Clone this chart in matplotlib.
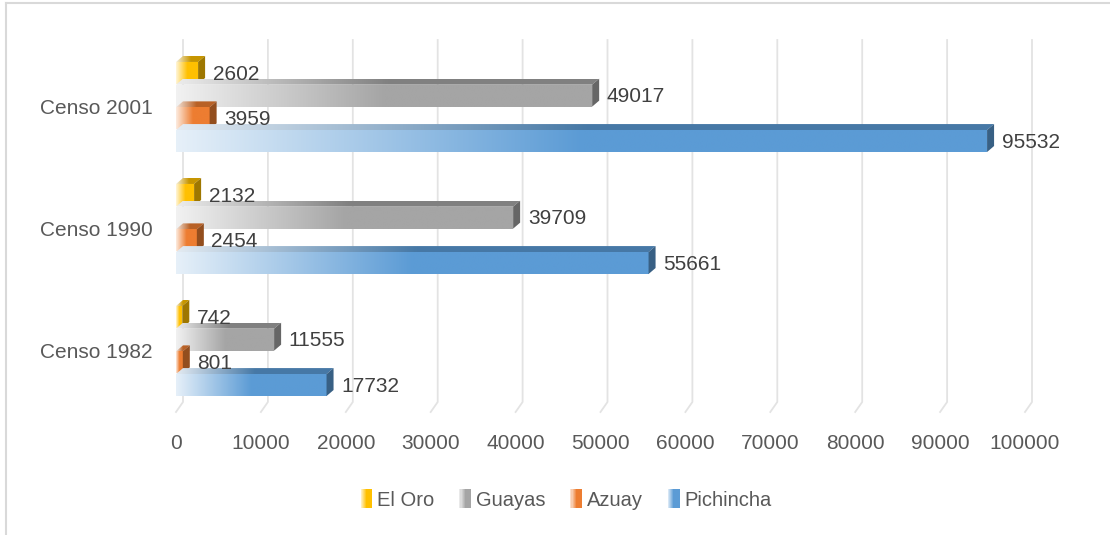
import matplotlib
matplotlib.use("Agg")
import matplotlib.pyplot as plt
import numpy as np
from matplotlib.patches import Polygon, Rectangle, Patch
from matplotlib.legend_handler import HandlerBase
from matplotlib.lines import Line2D

# datos
categories = ["Censo 1982", "Censo 1990", "Censo 2001"]
series_names = ["El Oro", "Guayas", "Azuay", "Pichincha"]
el_oro = [742, 2132, 2602]
guayas = [11555, 39709, 49017]
azuay = [801, 2454, 3959]
pichincha = [17732, 55661, 95532]
xticks = list(range(0, 100001, 10000))

colors = ["#FFC000", "#A5A5A5", "#ED7D31", "#5B9BD5"]
FONT = ["Liberation Sans", "DejaVu Sans"]
plt.rcParams["font.family"] = FONT

W, H = 1110, 535
fig = plt.figure(figsize=(W / 100, H / 100), dpi=100)
ax = fig.add_axes([176 / W, 1 - 412 / H, (1025 - 176) / W, (412 - 40) / H])
ax.set_xlim(0, 100000)
ax.set_ylim(2.5, -0.549)

DX = 825        # profundidad 3D en unidades de datos (x)
DY = 0.049      # profundidad 3D en unidades de categoría (y)
HALF = 0.09
STEP = 0.186


def rgb(c):
    return np.array(matplotlib.colors.to_rgb(c))


def gradient(c, n=256, start=0.15, span=0.5):
    t = np.linspace(0, 1, n)
    f = start + (1 - start) * np.clip(t / span, 0, 1)
    img = (1 - f)[:, None] * np.ones(3) + f[:, None] * rgb(c)
    return img[None, :, :]


def grad_poly(verts, extent, c, z, span=0.5):
    poly = Polygon(verts, closed=True, transform=ax.transData, facecolor="none",
                   edgecolor="none")
    im = ax.imshow(gradient(c, span=span), extent=extent, aspect="auto",
                   interpolation="bilinear", zorder=z)
    im.set_clip_path(poly)


# rejilla con suelo 3D
for xt in xticks:
    ax.plot([xt + DX, xt + DX, xt], [-0.549, 2.418, 2.5], color="#E3E3E3", lw=1.3,
            clip_on=False, zorder=0)

group_pos = [2, 1, 0]   # 2001 arriba
all_series = [el_oro, guayas, azuay, pichincha]
for s, (vals, c) in enumerate(zip(all_series, colors)):
    off = (s - 1.5) * STEP
    top_c = rgb(c) * 0.78
    side_c = rgb(c) * 0.62
    for g, v in zip(group_pos, vals):
        yc = g + off
        y0, y1 = yc - HALF, yc + HALF   # y0 arriba (eje invertido)
        z = 2 + s
        # cara frontal
        grad_poly([(0, y0), (v, y0), (v, y1), (0, y1)], (0, v, y1, y0), c, z)
        # cara superior
        grad_poly([(0, y0), (v, y0), (v + DX, y0 - DY), (DX, y0 - DY)],
                  (0, v + DX, y0, y0 - DY), top_c, z)
        # cara lateral
        ax.add_patch(Polygon([(v, y0), (v + DX, y0 - DY), (v + DX, y1 - DY), (v, y1)],
                             closed=True, facecolor=side_c, edgecolor="none", zorder=z))
        ax.text(v + DX + 900, yc + 0.01, f"{v}", va="center", ha="left", fontsize=15,
                color="#404040", zorder=10)

ax.set_xticks(xticks)
ax.set_xticklabels([str(x) for x in xticks])
ax.set_yticks(group_pos)
ax.set_yticklabels(categories)
ax.tick_params(axis="x", length=0, pad=16, labelsize=15, labelcolor="#595959")
ax.tick_params(axis="y", length=0, pad=17, labelsize=15, labelcolor="#595959")
for sp in ax.spines.values():
    sp.set_visible(False)


class GradientHandler(HandlerBase):
    def create_artists(self, legend, orig_handle, xdescent, ydescent, width, height,
                       fontsize, trans):
        c = orig_handle.get_facecolor()
        n = 10
        arts = []
        for i in range(n):
            f = 0.1 + 0.9 * min(1, (i + 1) / (n * 0.6))
            col = (1 - f) * np.ones(3) + f * np.array(c[:3])
            arts.append(Rectangle((-xdescent + i * width / n, -ydescent - 2), width / n + 0.3,
                                  height + 4, facecolor=col, edgecolor="none",
                                  transform=trans))
        return arts


handles = [Patch(facecolor=c, label=n) for n, c in zip(series_names, colors)]
fig.legend(handles=handles, loc="center", bbox_to_anchor=(566 / W, 1 - 500 / H), ncol=4,
           frameon=False, fontsize=14.5, labelcolor="#595959", handlelength=0.56,
           handleheight=0.7, handletextpad=0.25, columnspacing=1.25,
           handler_map={Patch: GradientHandler()})

# borde del gráfico
fig.add_artist(Line2D([6 / W, 6 / W], [0, 1 - 3 / H], color="#D9D9D9", lw=1.5,
                      transform=fig.transFigure))
fig.add_artist(Line2D([6 / W, 1], [1 - 3 / H, 1 - 3 / H], color="#D9D9D9", lw=1.5,
                      transform=fig.transFigure))

fig.savefig("out.png", dpi=100)
